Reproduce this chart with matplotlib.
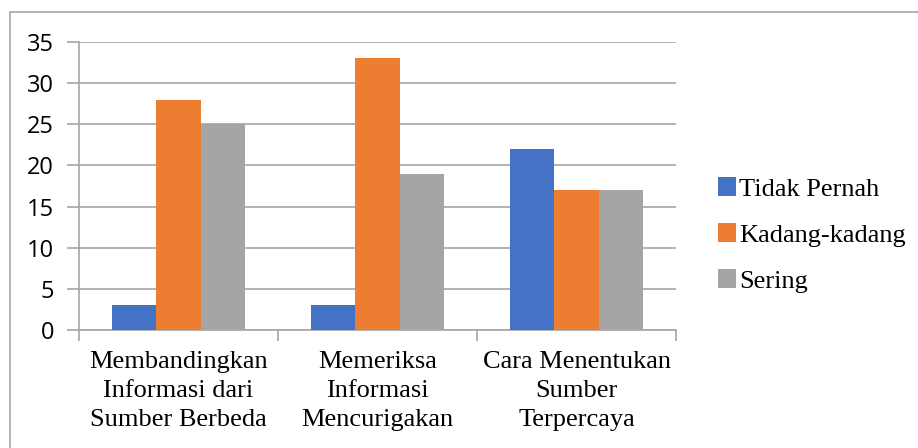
import numpy as np
import matplotlib
matplotlib.use("Agg")
from matplotlib import pyplot as plt
from matplotlib.patches import Rectangle

categories = ["Membandingkan\nInformasi dari\nSumber Berbeda",
              "Memeriksa\nInformasi\nMencurigakan",
              "Cara Menentukan\nSumber\nTerpercaya"]
series_names = ["Tidak Pernah", "Kadang-kadang", "Sering"]
tidak_pernah = [3, 3, 22]
kadang = [28, 33, 17]
sering = [25, 19, 17]
y_ticks = [0, 5, 10, 15, 20, 25, 30, 35]
colors = ["#4472C4", "#ED7D31", "#A5A5A5"]

fig = plt.figure(figsize=(9.18, 4.48), dpi=100)
ax = fig.add_axes([0.086, 0.2634, 0.6504, 0.6429])

#outer chart border like the excel frame
fig.patches.append(Rectangle((10/918, -0.1), 1.2, 1 - 12/448 + 0.1,
                             transform=fig.transFigure, fill=False,
                             edgecolor="#A6A6A6", linewidth=1.2, zorder=0))

x = np.arange(len(categories))
w = 1 / 4.5
for i, (vals, name) in enumerate(zip([tidak_pernah, kadang, sering], series_names)):
    ax.bar(x + (i - 1) * w, vals, w, color=colors[i], label=name, zorder=3)

ax.set_xlim(-0.5, 2.5)
ax.set_ylim(0, 35)
ax.set_yticks(y_ticks)
ax.set_yticklabels([str(t) for t in y_ticks], fontsize=17,
                   family=["Open Sans", "DejaVu Sans"])
ax.grid(axis="y", color="#A6A6A6", linewidth=1.2, zorder=0)
for s in ["top", "right"]:
    ax.spines[s].set_visible(False)
ax.spines["left"].set_color("#A6A6A6")
ax.spines["bottom"].set_color("#A6A6A6")
ax.spines["left"].set_linewidth(1.2)
ax.spines["bottom"].set_linewidth(1.2)

ax.tick_params(axis="y", length=9, width=1.2, color="#A6A6A6", pad=9)

#category boundary ticks like excel
ax.set_xticks([-0.5, 0.5, 1.5, 2.5])
ax.set_xticklabels([])
ax.tick_params(axis="x", length=8, width=1.2, color="#A6A6A6")
ax.set_xticks(x, minor=True)
ax.set_xticklabels(categories, minor=True, family="Liberation Serif",
                   fontsize=19, linespacing=1.42)
ax.tick_params(axis="x", which="minor", length=0, pad=15)

ax.legend(loc="center left", bbox_to_anchor=(1.03, 0.33), frameon=False,
          prop={"family": "Liberation Serif", "size": 19},
          handlelength=0.7, handleheight=0.7, handletextpad=0.12,
          labelspacing=0.85)

fig.savefig("out.png", dpi=100)
